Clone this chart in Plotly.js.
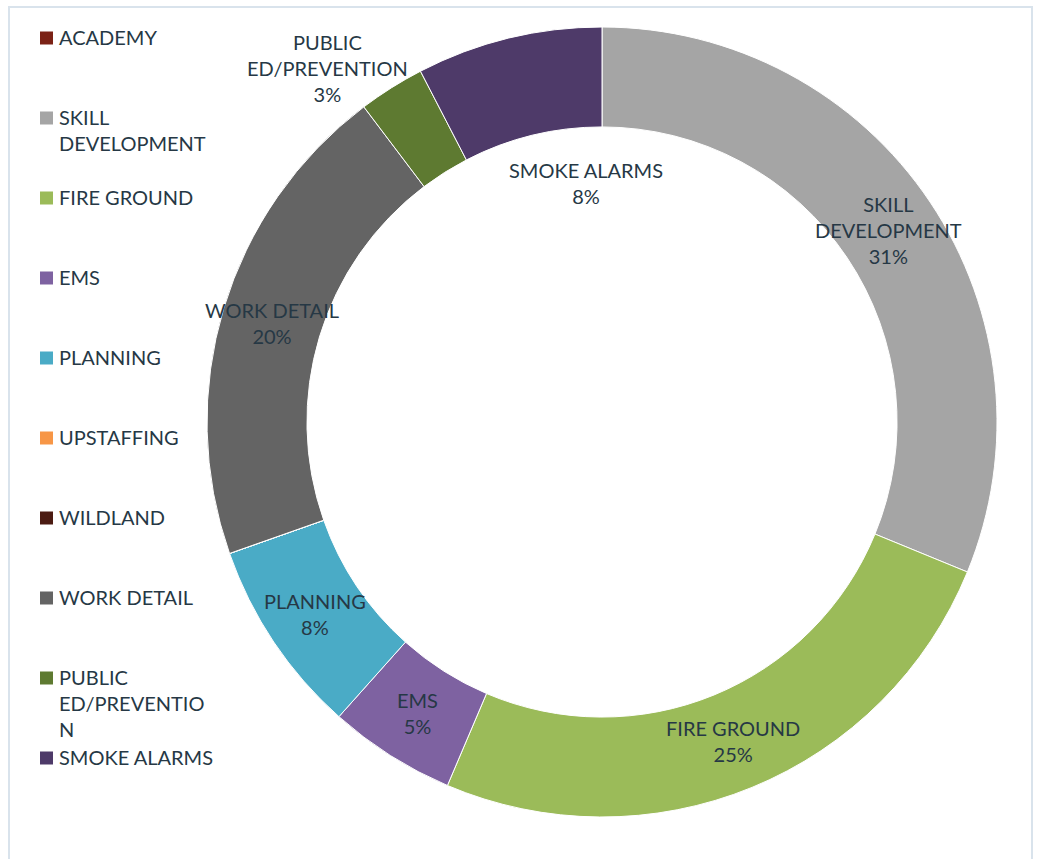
<!DOCTYPE html>
<html>
<head>
<meta charset="utf-8">
<script src="https://cdn.plot.ly/plotly-3.0.1.min.js"></script>
<style>html,body{margin:0;padding:0;background:#fff;}#chart{width:1037px;height:859px;}</style>
</head>
<body>
<div id="chart"></div>
<script>
// ---- data ----
const categories = ["ACADEMY","SKILL DEVELOPMENT","FIRE GROUND","EMS","PLANNING","UPSTAFFING","WILDLAND","WORK DETAIL","PUBLIC ED/PREVENTION","SMOKE ALARMS"];
const legendLabels = ["ACADEMY","SKILL<br>DEVELOPMENT","FIRE GROUND","EMS","PLANNING","UPSTAFFING","WILDLAND","WORK DETAIL","PUBLIC<br>ED/PREVENTIO<br>N","SMOKE ALARMS"];
const sliceLabels = ["ACADEMY","SKILL<br>DEVELOPMENT","FIRE GROUND","EMS","PLANNING","UPSTAFFING","WILDLAND","WORK DETAIL","PUBLIC<br>ED/PREVENTION","SMOKE ALARMS"];
const values = [0, 31.2, 25.2, 5.2, 8.0, 0, 0, 20.1, 2.7, 7.6];
const colors = ["#7b2216","#a5a5a5","#9bbb59","#7e62a1","#4aabc6","#f79646","#4b1b12","#646464","#5e7a31","#4e3a69"];

const FONT = "Lato, 'Open Sans', sans-serif";
const TXT = "#263845";
const W = 1037, H = 859;
const CX = 602, CY = 422, R_OUT = 395, HOLE = 0.747;
const total = values.reduce((a,b)=>a+b,0);
const pct = v => Math.round(v/total*100) + "%";

// label offsets for slices whose label is pushed off the ring (pixels)
const offRing = {"PUBLIC ED/PREVENTION": [327, 68], "SMOKE ALARMS": [586, 183]};

const trace = {
  type: "pie",
  labels: categories,
  values: values,
  sort: false,
  direction: "clockwise",
  rotation: 0,
  hole: HOLE,
  marker: {colors: colors, line: {color: "#ffffff", width: 1}},
  textposition: "none",
  showlegend: false,
  hoverinfo: "label+percent",
  domain: {x: [(CX-R_OUT)/W, (CX+R_OUT)/W], y: [1-(CY+R_OUT)/H, 1-(CY-R_OUT)/H]}
};

const shapes = [{
  type: "rect", xref: "paper", yref: "paper",
  x0: 9/W, x1: 1032/W, y0: -0.05, y1: 1-7/H,
  line: {color: "#d9e3ec", width: 2}, fillcolor: "rgba(0,0,0,0)"
}];
const annotations = [];

// legend built from the arrays
categories.forEach((c, i) => {
  const cy = 38 + 80*i;
  shapes.push({
    type: "rect", xref: "paper", yref: "paper",
    x0: 40/W, x1: 53/W, y0: 1-(cy+6.5)/H, y1: 1-(cy-6.5)/H,
    fillcolor: colors[i], line: {width: 0}
  });
  annotations.push({
    xref: "paper", yref: "paper", x: 57/W, y: 1-(cy-15)/H,
    xanchor: "left", yanchor: "top", align: "left", showarrow: false,
    text: legendLabels[i], font: {family: FONT, size: 20, color: TXT}
  });
});

// slice labels: centred on the ring at each slice's mid angle
let cum = 0;
const rMid = R_OUT * (1 + HOLE) / 2;
categories.forEach((c, i) => {
  const v = values[i];
  const midFrac = (cum + v/2) / total;
  cum += v;
  if (v <= 0) return;
  let px, py;
  if (offRing[c]) { [px, py] = offRing[c]; }
  else {
    const a = midFrac * 2 * Math.PI;
    px = CX + rMid * Math.sin(a);
    py = CY - rMid * Math.cos(a);
  }
  annotations.push({
    xref: "paper", yref: "paper", x: px/W, y: 1-py/H,
    xanchor: "center", yanchor: "middle", align: "center", showarrow: false,
    text: sliceLabels[i] + "<br>" + pct(v),
    font: {family: FONT, size: 20, color: TXT}
  });
});

const layout = {
  width: W, height: H,
  margin: {l: 0, r: 0, t: 0, b: 0},
  paper_bgcolor: "#ffffff",
  shapes: shapes,
  annotations: annotations,
  showlegend: false
};

Plotly.newPlot("chart", [trace], layout, {displayModeBar: false, staticPlot: true});
</script>
</body>
</html>
